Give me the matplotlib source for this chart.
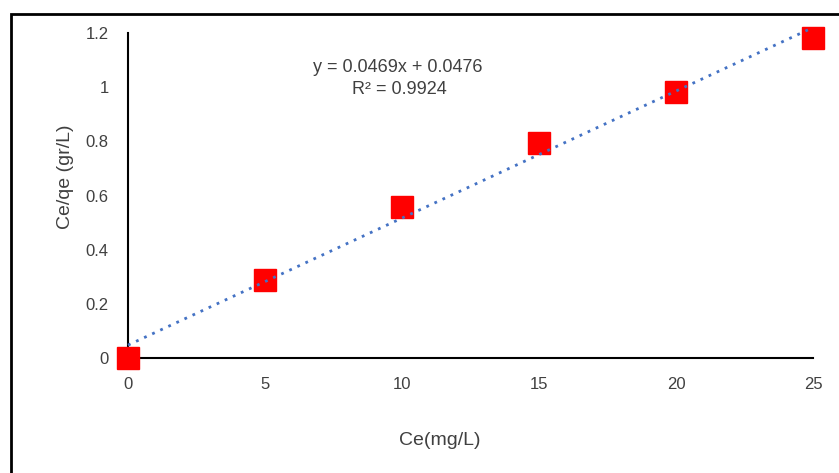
import numpy as np
import matplotlib.pyplot as plt
from matplotlib.patches import Rectangle

plt.rcParams['font.family'] = ['Liberation Sans', 'DejaVu Sans']

# 实测数据
ce = [0, 5, 10, 15, 20, 25]
ce_qe = [0.0, 0.288, 0.558, 0.794, 0.982, 1.18]
slope, intercept = 0.0469, 0.0476
x_ticks = [0, 5, 10, 15, 20, 25]
y_ticks = [0, 0.2, 0.4, 0.6, 0.8, 1.0, 1.2]
y_tick_labels = ['0', '0.2', '0.4', '0.6', '0.8', '1', '1.2']

W, H = 839, 473
fig = plt.figure(figsize=(W / 100, H / 100), dpi=100)
ax = fig.add_axes([128 / W, 1 - 358 / H, (813 - 128) / W, (358 - 33) / H])

# 外框（只露出左边和上边）
fig.patches.append(Rectangle((11 / W, -0.2), 2, 1.2 - 14 / H, transform=fig.transFigure,
                             fill=False, edgecolor='black', linewidth=2))

ax.plot(ce, ce_qe, 's', color='#FF0000', markersize=16.5, clip_on=False, zorder=3)
xs = np.array([ce[0], ce[-1]])
ax.plot(xs, slope * xs + intercept, linestyle=(0, (1, 2.2)), color='#4472C4',
        linewidth=2, clip_on=False, zorder=4)

ax.set_xlim(0, 25)
ax.set_ylim(0, 1.2)
ax.set_xticks(x_ticks)
ax.set_yticks(y_ticks)
ax.set_yticklabels(y_tick_labels)
ax.tick_params(length=0, labelsize=12, colors='#404040')
ax.tick_params(axis='y', pad=14)
ax.tick_params(axis='x', pad=14)
for s in ['top', 'right']:
    ax.spines[s].set_visible(False)
for s in ['left', 'bottom']:
    ax.spines[s].set_linewidth(1.5)

fig.text(66 / W, 1 - 177 / H, 'Ce/qe (gr/L)', rotation=90, ha='center', va='center',
         fontsize=14, color='#404040')
fig.text(440 / W, 1 - 440 / H, 'Ce(mg/L)', ha='center', va='center', fontsize=14, color='#404040')

ax.text(398 / W, 1 - 67 / H, f'y = {slope}x + {intercept}', transform=fig.transFigure,
        ha='center', va='center', fontsize=13, color='#404040')
ax.text(399 / W, 1 - 89 / H, 'R² = 0.9924', transform=fig.transFigure,
        ha='center', va='center', fontsize=13, color='#404040')

fig.savefig('out.png', dpi=100)
